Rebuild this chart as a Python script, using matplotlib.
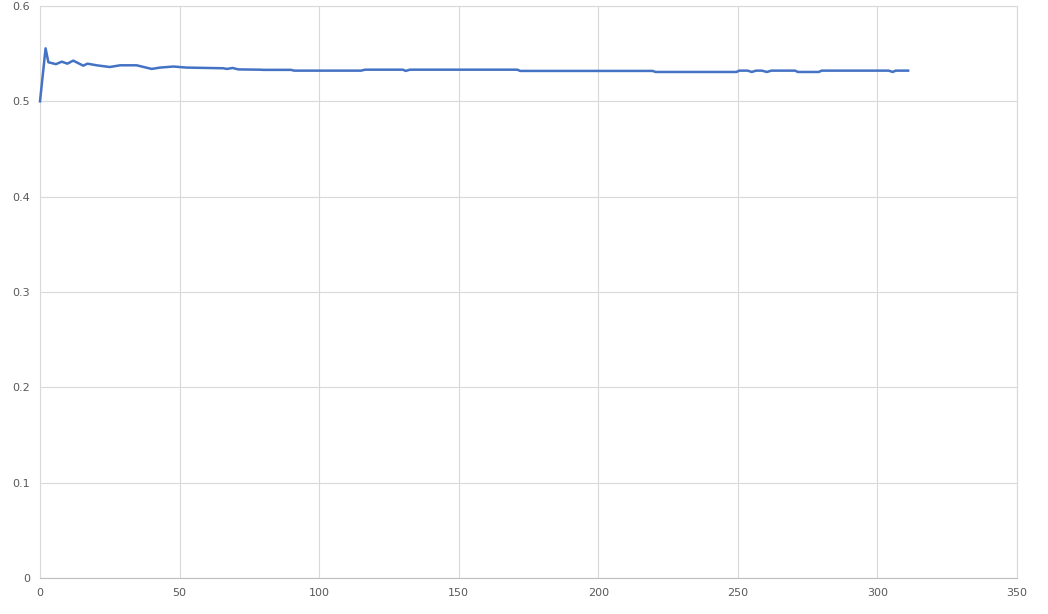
import matplotlib.pyplot as plt

# key points (x = step, y = ratio)
x_vals = [0, 2, 3, 5.7, 7.8, 9.8, 11.9, 15.5, 17, 20.3, 25, 28.7, 34.6, 40, 43, 47.8,
          52.5, 65.6, 67, 69, 71, 78.8, 80, 90, 91, 115, 116.5, 130, 131, 132.5, 171,
          172, 219.5, 220.5, 249.5, 250.5, 253.5, 255, 256.5, 258.6, 260.4, 262, 270.5,
          271.5, 279, 280, 304, 305.5, 306.5, 311]
y_vals = [0.500, 0.5556, 0.541, 0.539, 0.5416, 0.5395, 0.5427, 0.5374, 0.5395, 0.5378,
          0.536, 0.5378, 0.5378, 0.534, 0.5354, 0.5365, 0.5354, 0.5347, 0.5340, 0.5350,
          0.5335, 0.5332, 0.5330, 0.5330, 0.5322, 0.5322, 0.5332, 0.5332, 0.5319, 0.5332,
          0.5332, 0.5319, 0.5319, 0.5308, 0.5308, 0.5322, 0.5322, 0.5308, 0.5322, 0.5322,
          0.5308, 0.5322, 0.5322, 0.5308, 0.5308, 0.5322, 0.5322, 0.5308, 0.5322, 0.5322]

x_ticks = [0, 50, 100, 150, 200, 250, 300, 350]
y_ticks = [0, 0.1, 0.2, 0.3, 0.4, 0.5, 0.6]
y_tick_labels = ["0", "0.1", "0.2", "0.3", "0.4", "0.5", "0.6"]

fig = plt.figure(figsize=(10.48, 6.14), dpi=100)
ax = fig.add_axes([40 / 1048, 36 / 614, 977 / 1048, 572 / 614])

ax.plot(x_vals, y_vals, color="#4472C4", linewidth=1.8, solid_joinstyle="round",
        clip_on=False, zorder=3)

ax.set_xlim(0, 350)
ax.set_ylim(0, 0.6)
ax.set_xticks(x_ticks)
ax.set_yticks(y_ticks)
ax.set_yticklabels(y_tick_labels)
ax.grid(True, color="#d9d9d9", linewidth=0.8)
ax.set_axisbelow(True)
for side in ["top", "right", "left"]:
    ax.spines[side].set_color("#d9d9d9")
    ax.spines[side].set_linewidth(0.8)
ax.spines["bottom"].set_color("#bfbfbf")
ax.spines["bottom"].set_linewidth(0.8)
ax.tick_params(length=0, labelsize=8, labelcolor="#595959", pad=7)

fig.savefig("out.png", dpi=100)
